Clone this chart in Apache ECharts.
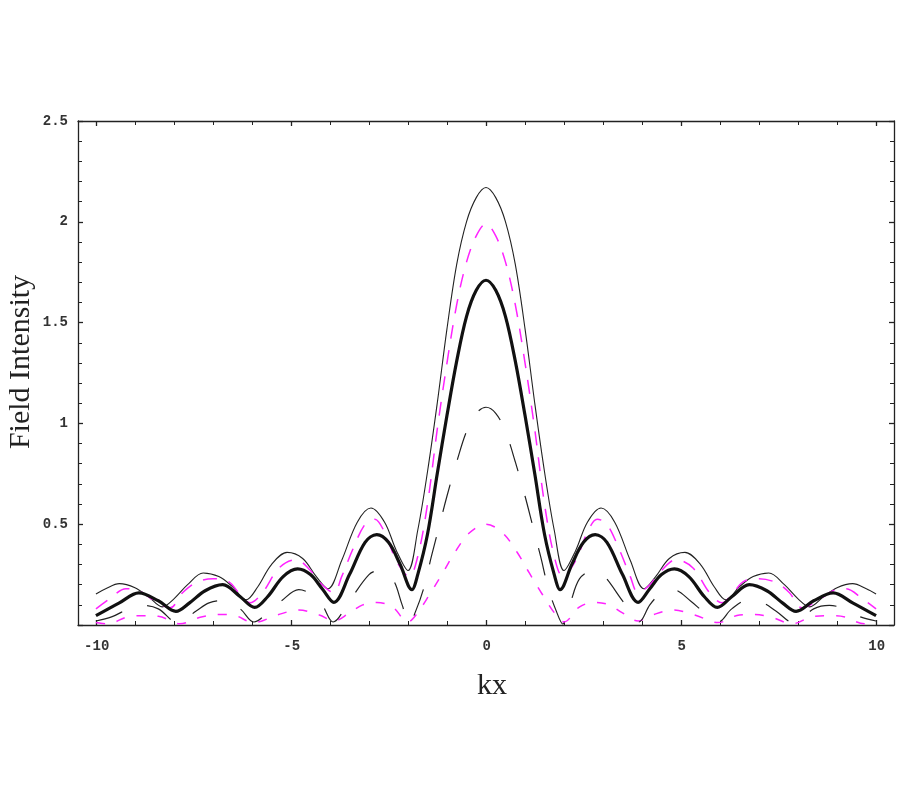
<!DOCTYPE html>
<html>
<head>
<meta charset="utf-8">
<script src="https://cdn.jsdelivr.net/npm/echarts@6/dist/echarts.min.js"></script>
<style>
  html, body { margin: 0; background: #fff; }
  #chart { width: 900px; height: 800px; }
</style>
</head>
<body>
<div id="chart"></div>
<script>
// curves, [kx, intensity]
const thinSolid = [
  [-10, 0.154], [-9.75, 0.18], [-9.4, 0.205], [-9.0, 0.185], [-8.65, 0.14], [-8.3, 0.09], [-8.0, 0.13],
  [-7.65, 0.2], [-7.25, 0.258], [-6.85, 0.24], [-6.5, 0.19], [-6.15, 0.125], [-5.85, 0.19], [-5.5, 0.3],
  [-5.1, 0.36], [-4.7, 0.33], [-4.35, 0.24], [-4.05, 0.18], [-3.7, 0.32], [-3.3, 0.51], [-2.95, 0.58],
  [-2.6, 0.51], [-2.3, 0.37], [-2.0, 0.27], [-1.75, 0.47], [-1.5, 0.76], [-1.25, 1.1], [-1.0, 1.47],
  [-0.75, 1.79], [-0.5, 2.0], [-0.25, 2.12], [0, 2.17], [0.25, 2.12], [0.5, 2.0], [0.75, 1.79],
  [1.0, 1.47], [1.25, 1.1], [1.5, 0.76], [1.75, 0.47], [2.0, 0.27], [2.3, 0.37], [2.6, 0.51],
  [2.95, 0.58], [3.3, 0.51], [3.7, 0.32], [4.05, 0.18], [4.35, 0.24], [4.7, 0.33], [5.1, 0.36],
  [5.5, 0.3], [5.85, 0.19], [6.15, 0.125], [6.5, 0.19], [6.85, 0.24], [7.25, 0.258], [7.65, 0.2],
  [8.0, 0.13], [8.3, 0.09], [8.65, 0.14], [9.0, 0.185], [9.4, 0.205], [9.75, 0.18], [10, 0.154]
];
const magentaLong = [
  [-10, 0.08], [-9.65, 0.13], [-9.23, 0.18], [-8.9, 0.17], [-8.5, 0.12], [-8.1, 0.085], [-7.78, 0.16],
  [-7.44, 0.21], [-7.0, 0.23], [-6.6, 0.215], [-6.3, 0.15], [-6.05, 0.11], [-5.73, 0.16], [-5.3, 0.284],
  [-4.87, 0.324], [-4.5, 0.27], [-4.2, 0.2], [-3.9, 0.16], [-3.7, 0.24], [-3.42, 0.373], [-3.1, 0.5],
  [-2.85, 0.525], [-2.6, 0.46], [-2.3, 0.32], [-1.97, 0.24], [-1.75, 0.34], [-1.5, 0.6], [-1.25, 0.97],
  [-1.0, 1.3], [-0.75, 1.59], [-0.5, 1.8], [-0.25, 1.93], [0, 1.99], [0.25, 1.93], [0.5, 1.8],
  [0.75, 1.59], [1.0, 1.3], [1.25, 0.97], [1.5, 0.6], [1.75, 0.34], [1.97, 0.24], [2.3, 0.32],
  [2.6, 0.46], [2.85, 0.525], [3.1, 0.5], [3.42, 0.373], [3.7, 0.24], [3.9, 0.16], [4.2, 0.2],
  [4.5, 0.27], [4.87, 0.324], [5.3, 0.284], [5.73, 0.16], [6.05, 0.11], [6.3, 0.15], [6.6, 0.215],
  [7.0, 0.23], [7.44, 0.21], [7.78, 0.16], [8.1, 0.085], [8.5, 0.12], [8.9, 0.17], [9.23, 0.18],
  [9.65, 0.13], [10, 0.08]
];
const thickSolid = [
  [-10, 0.046], [-9.4, 0.11], [-8.9, 0.159], [-8.4, 0.12], [-7.95, 0.068], [-7.6, 0.11], [-7.2, 0.17],
  [-6.75, 0.2], [-6.3, 0.14], [-5.93, 0.087], [-5.6, 0.14], [-5.2, 0.24], [-4.83, 0.278], [-4.5, 0.25],
  [-4.2, 0.18], [-3.9, 0.112], [-3.5, 0.25], [-3.1, 0.41], [-2.8, 0.448], [-2.5, 0.41], [-2.2, 0.3],
  [-1.9, 0.175], [-1.75, 0.25], [-1.5, 0.45], [-1.25, 0.75], [-1.0, 1.04], [-0.75, 1.31], [-0.5, 1.53],
  [-0.25, 1.66], [0, 1.71], [0.25, 1.66], [0.5, 1.53], [0.75, 1.31], [1.0, 1.04], [1.25, 0.75],
  [1.5, 0.45], [1.75, 0.25], [1.9, 0.175], [2.2, 0.3], [2.5, 0.41], [2.8, 0.448], [3.1, 0.41],
  [3.5, 0.25], [3.9, 0.112], [4.2, 0.18], [4.5, 0.25], [4.83, 0.278], [5.2, 0.24], [5.6, 0.14],
  [5.93, 0.087], [6.3, 0.14], [6.75, 0.2], [7.2, 0.17], [7.6, 0.11], [7.95, 0.068], [8.4, 0.12],
  [8.9, 0.159], [9.4, 0.11], [10, 0.046]
];
const blackLong = [
  [-10, 0.02], [-9.6, 0.04], [-9.1, 0.086], [-8.8, 0.097], [-8.4, 0.08], [-7.9, 0.01], [-7.44, 0.068],
  [-7.1, 0.11], [-6.7, 0.122], [-6.3, 0.08], [-5.95, 0.015], [-5.6, 0.06], [-5.26, 0.117], [-4.8, 0.175],
  [-4.45, 0.15], [-4.2, 0.1], [-3.92, 0.015], [-3.5, 0.12], [-3.0, 0.25], [-2.75, 0.27], [-2.4, 0.23],
  [-2.15, 0.1], [-1.97, 0.005], [-1.8, 0.07], [-1.6, 0.18], [-1.4, 0.34], [-1.2, 0.49], [-1.0, 0.64],
  [-0.75, 0.81], [-0.5, 0.96], [-0.25, 1.05], [0, 1.08], [0.25, 1.05], [0.5, 0.96], [0.75, 0.81],
  [1.0, 0.64], [1.2, 0.49], [1.4, 0.34], [1.6, 0.18], [1.8, 0.07], [1.97, 0.005], [2.15, 0.1],
  [2.4, 0.23], [2.75, 0.27], [3.0, 0.25], [3.5, 0.12], [3.92, 0.015], [4.2, 0.1], [4.45, 0.15],
  [4.8, 0.175], [5.26, 0.117], [5.6, 0.06], [5.95, 0.015], [6.3, 0.08], [6.7, 0.122], [7.1, 0.11],
  [7.44, 0.068], [7.9, 0.01], [8.4, 0.08], [8.8, 0.097], [9.1, 0.086], [9.6, 0.04], [10, 0.02]
];
const magentaShort = [
  [-10, 0.012], [-9.7, 0.006], [-9.2, 0.04], [-8.9, 0.046], [-8.4, 0.043], [-7.85, 0.006], [-7.3, 0.04],
  [-6.8, 0.052], [-6.5, 0.05], [-5.95, 0.012], [-5.35, 0.05], [-4.8, 0.074], [-4.27, 0.05], [-3.9, 0.02],
  [-3.5, 0.06], [-3.16, 0.1], [-2.8, 0.112], [-2.4, 0.09], [-2.0, 0.015], [-1.79, 0.051], [-1.45, 0.15],
  [-1.11, 0.258], [-0.81, 0.357], [-0.43, 0.456], [0, 0.5], [0.43, 0.456], [0.81, 0.357], [1.11, 0.258],
  [1.45, 0.15], [1.79, 0.051], [2.0, 0.015], [2.4, 0.09], [2.8, 0.112], [3.16, 0.1], [3.5, 0.06],
  [3.9, 0.02], [4.27, 0.05], [4.8, 0.074], [5.35, 0.05], [5.95, 0.012], [6.5, 0.05], [6.8, 0.052],
  [7.3, 0.04], [7.85, 0.006], [8.4, 0.043], [8.9, 0.046], [9.2, 0.04], [9.7, 0.006], [10, 0.012]
];

const xLabels = [-10, -5, 0, 5, 10];
const yLabels = [0.5, 1, 1.5, 2, 2.5];

const chart = echarts.init(document.getElementById("chart"));

const tickFont = { fontFamily: "Liberation Mono", fontSize: 14, fontWeight: "bold", color: "#333" };
const frameLine = { show: true, onZero: false, lineStyle: { color: "#222", width: 1.3 } };

// frame axes only draw the box, tick axes sit on a second grid spanning -10..10
const frameX = pos => ({
  gridIndex: 0, type: "value", position: pos, min: -10.46, max: 10.46,
  axisLine: frameLine, axisTick: { show: false }, axisLabel: { show: false }, splitLine: { show: false }
});
const tickX = (pos, labels) => ({
  gridIndex: 1, type: "value", position: pos, min: -10, max: 10, interval: 5,
  axisLine: { show: false, onZero: false },
  axisTick: { show: true, inside: true, length: 5, lineStyle: { color: "#222", width: 1.3 } },
  minorTick: { show: true, splitNumber: 5, length: 4, lineStyle: { color: "#222", width: 1 } },
  axisLabel: labels
    ? { show: true, margin: 14, ...tickFont, formatter: v => (xLabels.includes(v) ? String(v) : "") }
    : { show: false },
  splitLine: { show: false }, minorSplitLine: { show: false }
});
const sideY = (pos, labels) => ({
  gridIndex: 0, type: "value", position: pos, min: 0, max: 2.5, interval: 0.5,
  axisLine: frameLine,
  axisTick: { show: true, inside: true, length: 5, lineStyle: { color: "#222", width: 1.3 } },
  minorTick: { show: true, splitNumber: 5, length: 4, lineStyle: { color: "#222", width: 1 } },
  axisLabel: labels
    ? { show: true, margin: 10, ...tickFont, formatter: v => (yLabels.includes(v) ? String(v) : "") }
    : { show: false },
  splitLine: { show: false }, minorSplitLine: { show: false }
});

const line = (data, color, width, type) => ({
  type: "line", xAxisIndex: 0, yAxisIndex: 0, data, smooth: 0.35, symbol: "none",
  lineStyle: { color, width, type }, animation: false, z: 3
});

const option = {
  backgroundColor: "#fff",
  animation: false,
  grid: [
    { left: 78, right: 6, top: 121, bottom: 175 },
    { left: 96.7, right: 23.3, top: 121, bottom: 175 }
  ],
  xAxis: [frameX("bottom"), frameX("top"), tickX("bottom", true), tickX("top", false)],
  yAxis: [sideY("left", true), sideY("right", false), { gridIndex: 1, show: false, min: 0, max: 1 }],
  series: [
    line(magentaShort, "#ff22ff", 1.5, [9, 12]),
    line(blackLong, "#222", 1.2, [28, 26]),
    line(thinSolid, "#222", 1.1, "solid"),
    line(magentaLong, "#ff22ff", 1.5, [14, 12]),
    line(thickSolid, "#111", 3.2, "solid")
  ],
  graphic: [
    {
      type: "text", x: 21, y: 362, rotation: Math.PI / 2,
      style: { text: "Field Intensity", font: "30px 'Liberation Serif'", fill: "#222", textAlign: "center", textVerticalAlign: "middle" }
    },
    {
      type: "text", x: 492, y: 686,
      style: { text: "kx", font: "30px 'Liberation Serif'", fill: "#222", textAlign: "center", textVerticalAlign: "middle" }
    }
  ]
};
chart.setOption(option);
</script>
</body>
</html>
